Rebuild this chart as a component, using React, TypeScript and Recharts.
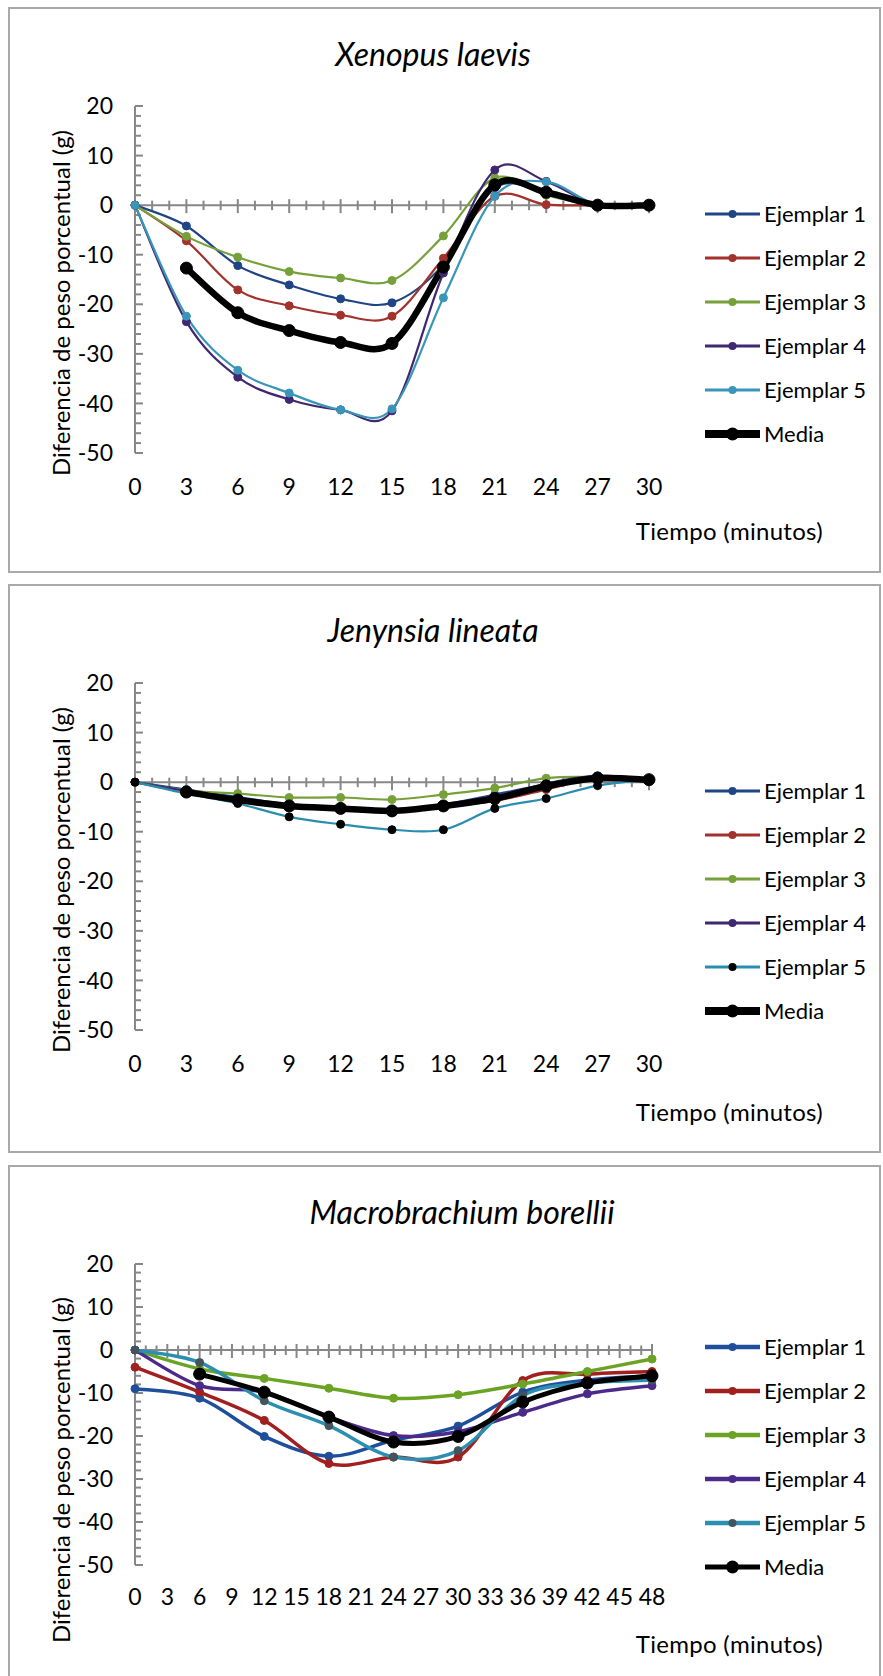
import { LineChart, Line, XAxis, YAxis, ReferenceLine, Legend } from 'recharts'

// Xenopus laevis
const xenTimes = [0, 3, 6, 9, 12, 15, 18, 21, 24, 27, 30]
const xenE1 = [0, -4.2, -12.2, -16.1, -18.9, -19.7, -12, 3.5, 2.5, 0, 0]
const xenE2 = [0, -7.2, -17.1, -20.3, -22.2, -22.4, -10.7, 1.8, 0.1, 0, 0]
const xenE3 = [0, -6.3, -10.5, -13.4, -14.7, -15.2, -6.2, 5.5, 2, 0, 0]
const xenE4 = [0, -23.5, -34.7, -39.2, -41.3, -41.5, -13.7, 7.1, 4.8, 0, 0]
const xenE5 = [0, -22.4, -33.3, -37.9, -41.3, -41.1, -18.7, 1.8, 4.7, 0, 0]
const xenMedia = [null, -12.7, -21.7, -25.3, -27.7, -27.9, -12.5, 4.1, 2.6, 0, 0]

// Jenynsia lineata
const jenTimes = [0, 3, 6, 9, 12, 15, 18, 21, 24, 27, 30]
const jenE1 = [0, -1.5, -3.0, -4.5, -5.0, -5.5, -4.5, -2.5, -0.5, 0.8, 0.5]
const jenE2 = [0, -2.0, -3.5, -5.0, -5.5, -6.0, -5.0, -3.8, -1.5, 1.0, 0.5]
const jenE3 = [0, -1.7, -2.3, -3.1, -3.1, -3.5, -2.5, -1.2, 0.8, 1.0, 0.5]
const jenE4 = [0, -1.8, -3.3, -4.8, -5.3, -6.0, -5.0, -3.0, -0.3, 1.3, 0.6]
const jenE5 = [0, -2.3, -4.3, -7.0, -8.5, -9.6, -9.6, -5.3, -3.3, -0.7, 0.5]
const jenMedia = [null, -2.0, -3.6, -4.8, -5.3, -5.8, -4.8, -3.3, -0.8, 0.8, 0.5]

// Macrobrachium borellii
const macTimes = [0, 6, 12, 18, 24, 30, 36, 42, 48]
const macE1 = [-9.0, -11.2, -20.1, -24.7, -21.0, -17.7, -9.8, -7.0, -6.0]
const macE2 = [-4.0, -9.8, -16.4, -26.4, -24.9, -24.9, -7.1, -5.6, -5.0]
const macE3 = [0, -4.4, -6.6, -8.9, -11.2, -10.4, -7.9, -5.0, -2.1]
const macE4 = [0, -8.3, -9.8, -15.6, -19.9, -19.0, -14.5, -10.2, -8.3]
const macE5 = [0, -2.9, -11.8, -17.6, -24.9, -23.4, -10.6, -7.7, -7.0]
const macMedia = [null, -5.6, -9.8, -15.6, -21.4, -20.1, -12.1, -7.7, -6.0]

const shortTicks = [0, 3, 6, 9, 12, 15, 18, 21, 24, 27, 30]
const longTicks = [0, 3, 6, 9, 12, 15, 18, 21, 24, 27, 30, 33, 36, 39, 42, 45, 48]
const yTicks = [20, 10, 0, -10, -20, -30, -40, -50]
const names = ['Ejemplar 1', 'Ejemplar 2', 'Ejemplar 3', 'Ejemplar 4', 'Ejemplar 5', 'Media']

const AXIS = '#878787'
const FONT = 'Lato, "Open Sans", sans-serif'

// Excel style smoothed line: Catmull-Rom through every point
function excelSmooth(context: any) {
  let pts: number[][] = []
  return {
    areaStart() {},
    areaEnd() {},
    lineStart() {
      pts = []
    },
    point(x: number, y: number) {
      pts.push([+x, +y])
    },
    lineEnd() {
      if (!pts.length) return
      context.moveTo(pts[0][0], pts[0][1])
      for (let i = 0; i < pts.length - 1; i++) {
        const p0 = pts[i - 1] ?? pts[i]
        const p1 = pts[i]
        const p2 = pts[i + 1]
        const p3 = pts[i + 2] ?? p2
        context.bezierCurveTo(
          p1[0] + (p2[0] - p0[0]) / 6,
          p1[1] + (p2[1] - p0[1]) / 6,
          p2[0] - (p3[0] - p1[0]) / 6,
          p2[1] - (p3[1] - p1[1]) / 6,
          p2[0],
          p2[1]
        )
      }
    },
  }
}

const panels = [
  {
    title: 'Xenopus laevis',
    top: 7,
    height: 566,
    plotBottom: 446,
    right: 232,
    titleX: 425,
    titleY: 46,
    legendTop: 185,
    tiempoY: 523,
    ylabelY: 296,
    times: xenTimes,
    xTicks: shortTicks,
    values: [xenE1, xenE2, xenE3, xenE4, xenE5, xenMedia],
    colors: ['#1f4585', '#a3312c', '#76a03a', '#3f2870', '#3a95ba', '#000'],
    dots: ['#1f4585', '#a3312c', '#76a03a', '#3f2870', '#3a95ba', '#000'],
    lineW: 2.2,
    meanW: 6.5,
    legendW: 3,
    legendMeanW: 8,
  },
  {
    title: 'Jenynsia lineata',
    top: 584,
    height: 569,
    plotBottom: 446,
    right: 232,
    titleX: 425,
    titleY: 45,
    legendTop: 185,
    tiempoY: 527,
    ylabelY: 296,
    times: jenTimes,
    xTicks: shortTicks,
    values: [jenE1, jenE2, jenE3, jenE4, jenE5, jenMedia],
    colors: ['#1f4585', '#a3312c', '#76a03a', '#3f2870', '#2a8db0', '#000'],
    dots: ['#1f4585', '#a3312c', '#76a03a', '#3f2870', '#000', '#000'],
    lineW: 2.2,
    meanW: 6.5,
    legendW: 3,
    legendMeanW: 8,
  },
  {
    title: 'Macrobrachium borellii',
    top: 1165,
    height: 520,
    plotBottom: 400,
    right: 229,
    titleX: 454,
    titleY: 46,
    legendTop: 160,
    tiempoY: 478,
    ylabelY: 305,
    times: macTimes,
    xTicks: longTicks,
    values: [macE1, macE2, macE3, macE4, macE5, macMedia],
    colors: ['#1f4f9b', '#a11f1f', '#6ba424', '#4b2a8a', '#2a8fb0', '#000'],
    dots: ['#1f4f9b', '#a11f1f', '#6ba424', '#4b2a8a', '#44545c', '#000'],
    lineW: 3.5,
    meanW: 5,
    legendW: 4.5,
    legendMeanW: 5,
  },
]

type PanelCfg = (typeof panels)[number]

function LegendBox({ p }: { p: PanelCfg }) {
  return (
    <svg width={180} height={270}>
      {names.map((name, i) => {
        const cy = 22 + i * 44
        const mean = i === 5
        return (
          <g key={name}>
            <line x1={7} x2={62} y1={cy} y2={cy} stroke={p.colors[i]} strokeWidth={mean ? p.legendMeanW : p.legendW} />
            <circle cx={34.5} cy={cy} r={mean ? 6.5 : 4} fill={p.dots[i]} />
            <text x={66} y={cy} dy="0.35em" fontSize={22} fontFamily={FONT} fill="#000">
              {name}
            </text>
          </g>
        )
      })}
    </svg>
  )
}

function Panel({ p }: { p: PanelCfg }) {
  const data = p.times.map((t, i) => {
    const row: Record<string, number | null> = { t }
    p.values.forEach((v, k) => {
      row['s' + k] = v[i]
    })
    return row
  })
  const xMax = p.xTicks[p.xTicks.length - 1]
  const plotW = 873 - p.right - 127
  const plotH = p.plotBottom - 99
  const ux = plotW / xMax
  const uy = plotH / 70

  const xMinor = Array.from({ length: xMax }, (_, i) => i + 1)
  const yMinor = Array.from({ length: 36 }, (_, i) => -50 + i * 2).filter((v) => v !== 0)

  return (
    <div style={{ position: 'absolute', left: 8, top: p.top, width: 873, height: p.height }}>
      <LineChart
        width={873}
        height={p.height}
        data={data}
        margin={{ top: 99, right: p.right, bottom: p.height - p.plotBottom - 40, left: 47 }}
      >
        <XAxis
          dataKey="t"
          type="number"
          domain={[0, xMax]}
          ticks={p.xTicks}
          interval={0}
          axisLine={false}
          tickLine={false}
          tickSize={0}
          tickMargin={p.plotBottom === 400 ? 24 : 26}
          height={40}
          tick={{ fill: '#000', fontSize: 23, fontFamily: FONT }}
        />
        <YAxis
          type="number"
          domain={[-50, 20]}
          ticks={yTicks}
          interval={0}
          width={80}
          axisLine={{ stroke: AXIS, strokeWidth: 2 }}
          tickLine={false}
          tickSize={0}
          tickMargin={22}
          tick={{ fill: '#000', fontSize: 23, fontFamily: FONT }}
        />
        <ReferenceLine y={0} stroke={AXIS} strokeWidth={2} />
        {xMinor.map((v) => {
          const major = v % 3 === 0
          return (
            <ReferenceLine
              key={'xt' + v}
              segment={[
                { x: v, y: (major ? 6 : 4.5) / uy },
                { x: v, y: -(major ? 8 : 5) / uy },
              ]}
              stroke={AXIS}
              strokeWidth={2}
              ifOverflow="visible"
            />
          )
        })}
        {yMinor.map((v) => (
          <ReferenceLine
            key={'yt' + v}
            segment={[
              { x: 0, y: v },
              { x: (v % 10 === 0 ? 8 : 6) / ux, y: v },
            ]}
            stroke={AXIS}
            strokeWidth={2}
            ifOverflow="visible"
          />
        ))}
        {p.values.map((_, k) => {
          const mean = k === 5
          return (
            <Line
              key={k}
              dataKey={'s' + k}
              name={names[k]}
              type={excelSmooth as any}
              stroke={p.colors[k]}
              strokeWidth={mean ? p.meanW : p.lineW}
              dot={{ r: mean ? 6 : 4, fill: p.dots[k], stroke: p.dots[k], strokeWidth: 1 }}
              activeDot={false}
              isAnimationActive={false}
            />
          )
        })}
        <Legend
          layout="vertical"
          align="center"
          verticalAlign="middle"
          wrapperStyle={{ left: 690, top: p.legendTop, width: 180, height: 270 }}
          content={() => <LegendBox p={p} />}
        />
      </LineChart>

      <div
        style={{
          position: 'absolute',
          left: p.titleX,
          top: p.titleY,
          transform: 'translate(-50%, -50%)',
          fontFamily: FONT,
          fontStyle: 'italic',
          fontSize: 32,
          whiteSpace: 'nowrap',
        }}
      >
        {p.title}
      </div>
      <div
        style={{
          position: 'absolute',
          left: 52,
          top: p.ylabelY,
          transform: 'translate(-50%, -50%) rotate(-90deg)',
          fontFamily: FONT,
          fontSize: 24,
          whiteSpace: 'nowrap',
        }}
      >
        Diferencia de peso porcentual (g)
      </div>
      <div
        style={{
          position: 'absolute',
          right: 873 - 815,
          top: p.tiempoY,
          transform: 'translateY(-50%)',
          fontFamily: FONT,
          fontSize: 24,
          letterSpacing: 0.3,
          whiteSpace: 'nowrap',
        }}
      >
        Tiempo (minutos)
      </div>
      <div
        style={{
          position: 'absolute',
          inset: 0,
          border: '2px solid #a9a9a9',
          boxSizing: 'border-box',
          pointerEvents: 'none',
        }}
      />
    </div>
  )
}

export default function App() {
  return (
    <div style={{ position: 'fixed', left: 0, top: 0, width: 883, height: 1676, overflow: 'hidden', background: '#fff' }}>
      {panels.map((p) => (
        <Panel key={p.title} p={p} />
      ))}
    </div>
  )
}
